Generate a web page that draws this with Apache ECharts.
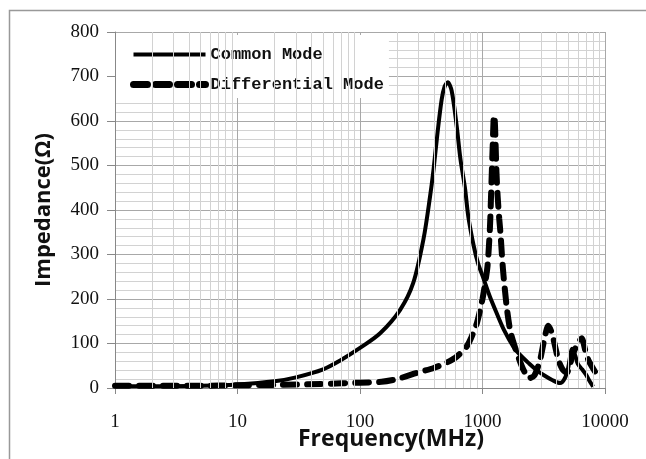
<!DOCTYPE html>
<html>
<head>
<meta charset="utf-8">
<script src="https://cdn.jsdelivr.net/npm/echarts@6/dist/echarts.min.js"></script>
<style>
html,body{margin:0;padding:0;background:#fff;}
#chart{width:646px;height:459px;}
</style>
</head>
<body>
<div id="chart"></div>
<script>
// Common Mode impedance (MHz, Ohm)
const freqCM = [1, 2, 5, 10, 20, 30, 50, 70, 100, 146, 212, 272, 330, 373, 398, 430, 464, 490, 520, 560, 615, 660, 719, 766, 850, 920, 1016, 1150, 1306, 1500, 1786, 2000, 2400, 2770, 3200, 3700, 4295, 4700, 5000, 5400, 5700, 6000, 6500, 7000, 7500, 8000];
const zCM    = [4, 4, 5, 8, 15, 24, 42, 63, 90, 123, 175, 236, 335, 430, 490, 575, 648, 677, 687, 668, 590, 515, 450, 385, 318, 280, 247, 205, 168, 130, 93, 76, 55, 40, 28, 18, 11, 22, 45, 88, 74, 54, 42, 30, 15, 3];
// Differential Mode impedance (MHz, Ohm)
const freqDM = [1, 2, 5, 10, 20, 50, 100, 150, 200, 300, 400, 500, 600, 700, 750, 800, 900, 1000, 1050, 1100, 1150, 1180, 1210, 1240, 1260, 1280, 1300, 1330, 1370, 1400, 1470, 1575, 1680, 1800, 1960, 2150, 2400, 2650, 2950, 3200, 3445, 3700, 4160, 4500, 4865, 5200, 5520, 6000, 6450, 6900, 7310, 8280];
const zDM    = [5, 5, 5, 6, 7, 9, 12, 14, 20, 35, 45, 56, 68, 85, 95, 110, 146, 200, 235, 275, 360, 450, 540, 612, 600, 545, 485, 430, 380, 350, 266, 183, 130, 100, 70, 42, 22, 28, 63, 110, 140, 122, 63, 42, 34, 55, 79, 100, 112, 85, 63, 37];
const seriesNames = ['Common Mode', 'Differential Mode'];
const xTickLabels = ['1', '10', '100', '1000', '10000'];
const yTickLabels = ['0', '100', '200', '300', '400', '500', '600', '700', '800'];
const xAxisTitle = 'Frequency(MHz)';
const yAxisTitle = 'Impedance(Ω)';

function pairs(xs, ys) { return xs.map((x, i) => [x, ys[i]]); }

// minor log gridlines (2..9 within each decade)
const minorX = [];
[1, 10, 100, 1000].forEach(d => { for (let k = 2; k <= 9; k++) minorX.push({ xAxis: d * k }); });

const clear = 'rgba(0,0,0,0)';
// zero-area path: draws nothing, so the legend shows only the line
const blankSymbol = 'path://M0,0L1,1';

const chart = echarts.init(document.getElementById('chart'), null, { renderer: 'canvas' });
chart.setOption({
  animation: false,
  backgroundColor: '#fff',
  graphic: [
    { type: 'rect', left: 7, top: 8, shape: { width: 700, height: 500 }, style: { fill: 'none', stroke: '#999', lineWidth: 1.5 }, z: -10 },
    { type: 'text', left: 298, top: 428, style: { text: xAxisTitle, font: 'bold 23px "Open Sans"', fill: '#111' } }
  ],
  grid: { left: 115, right: 41, top: 32, bottom: 71 },
  legend: {
    data: [
      { name: seriesNames[0], lineStyle: { width: 4, color: '#000' } },
      { name: seriesNames[1], lineStyle: { width: 7, color: '#000', type: [14, 8], cap: 'round' } }
    ],
    orient: 'vertical',
    left: 116, top: 35,
    padding: [11, 5, 5, 14],
    itemGap: 13,
    itemWidth: 72,
    itemHeight: 14,
    backgroundColor: '#fff',
    itemStyle: { color: clear, borderColor: clear, borderWidth: 0 },
    textStyle: { fontFamily: 'Liberation Mono', fontWeight: 'bold', fontSize: 17, color: '#111' }
  },
  xAxis: {
    type: 'log', logBase: 10, min: 1, max: 10000,
    axisLine: { lineStyle: { color: '#888', width: 1 } },
    axisTick: { show: true, length: 6, lineStyle: { color: '#888' } },
    axisLabel: { margin: 25, fontFamily: 'Liberation Serif', fontSize: 19, color: '#111',
      formatter: v => xTickLabels.includes(String(Math.round(v))) ? String(Math.round(v)) : '' },
    splitLine: { show: true, lineStyle: { color: '#a8a8a8', width: 1 } }
  },
  yAxis: {
    type: 'value', min: 0, max: 800, interval: 100,
    name: yAxisTitle, nameLocation: 'middle', nameGap: 60,
    nameTextStyle: { fontFamily: 'Open Sans', fontWeight: 'bold', fontSize: 22, color: '#111' },
    axisLine: { show: true, lineStyle: { color: '#888', width: 1 } },
    axisTick: { show: true, length: 8, lineStyle: { color: '#888' } },
    axisLabel: { margin: 16, fontFamily: 'Liberation Serif', fontSize: 19, color: '#111',
      formatter: v => yTickLabels.includes(String(v)) ? String(v) : '' },
    splitLine: { show: true, lineStyle: { color: '#a8a8a8', width: 1 } },
    minorTick: { show: false, splitNumber: 5 },
    minorSplitLine: { show: true, lineStyle: { color: '#d2d2d2', width: 1 } }
  },
  series: [
    {
      name: seriesNames[0], type: 'line', symbol: blankSymbol, showSymbol: false, smooth: 0.3,
      data: pairs(freqCM, zCM),
      lineStyle: { color: '#000', width: 4 },
      itemStyle: { color: clear, borderColor: clear, borderWidth: 0 },
      z: 3,
      markLine: {
        silent: true, symbol: 'none', label: { show: false }, animation: false,
        lineStyle: { color: '#d2d2d2', width: 1, type: 'solid' },
        data: minorX
      }
    },
    {
      name: seriesNames[1], type: 'line', symbol: blankSymbol, showSymbol: false, smooth: 0.25,
      data: pairs(freqDM, zDM),
      lineStyle: { color: '#000', width: 6, type: [14, 10], cap: 'round' },
      itemStyle: { color: clear, borderColor: clear, borderWidth: 0 },
      z: 3
    }
  ]
});
</script>
</body>
</html>
